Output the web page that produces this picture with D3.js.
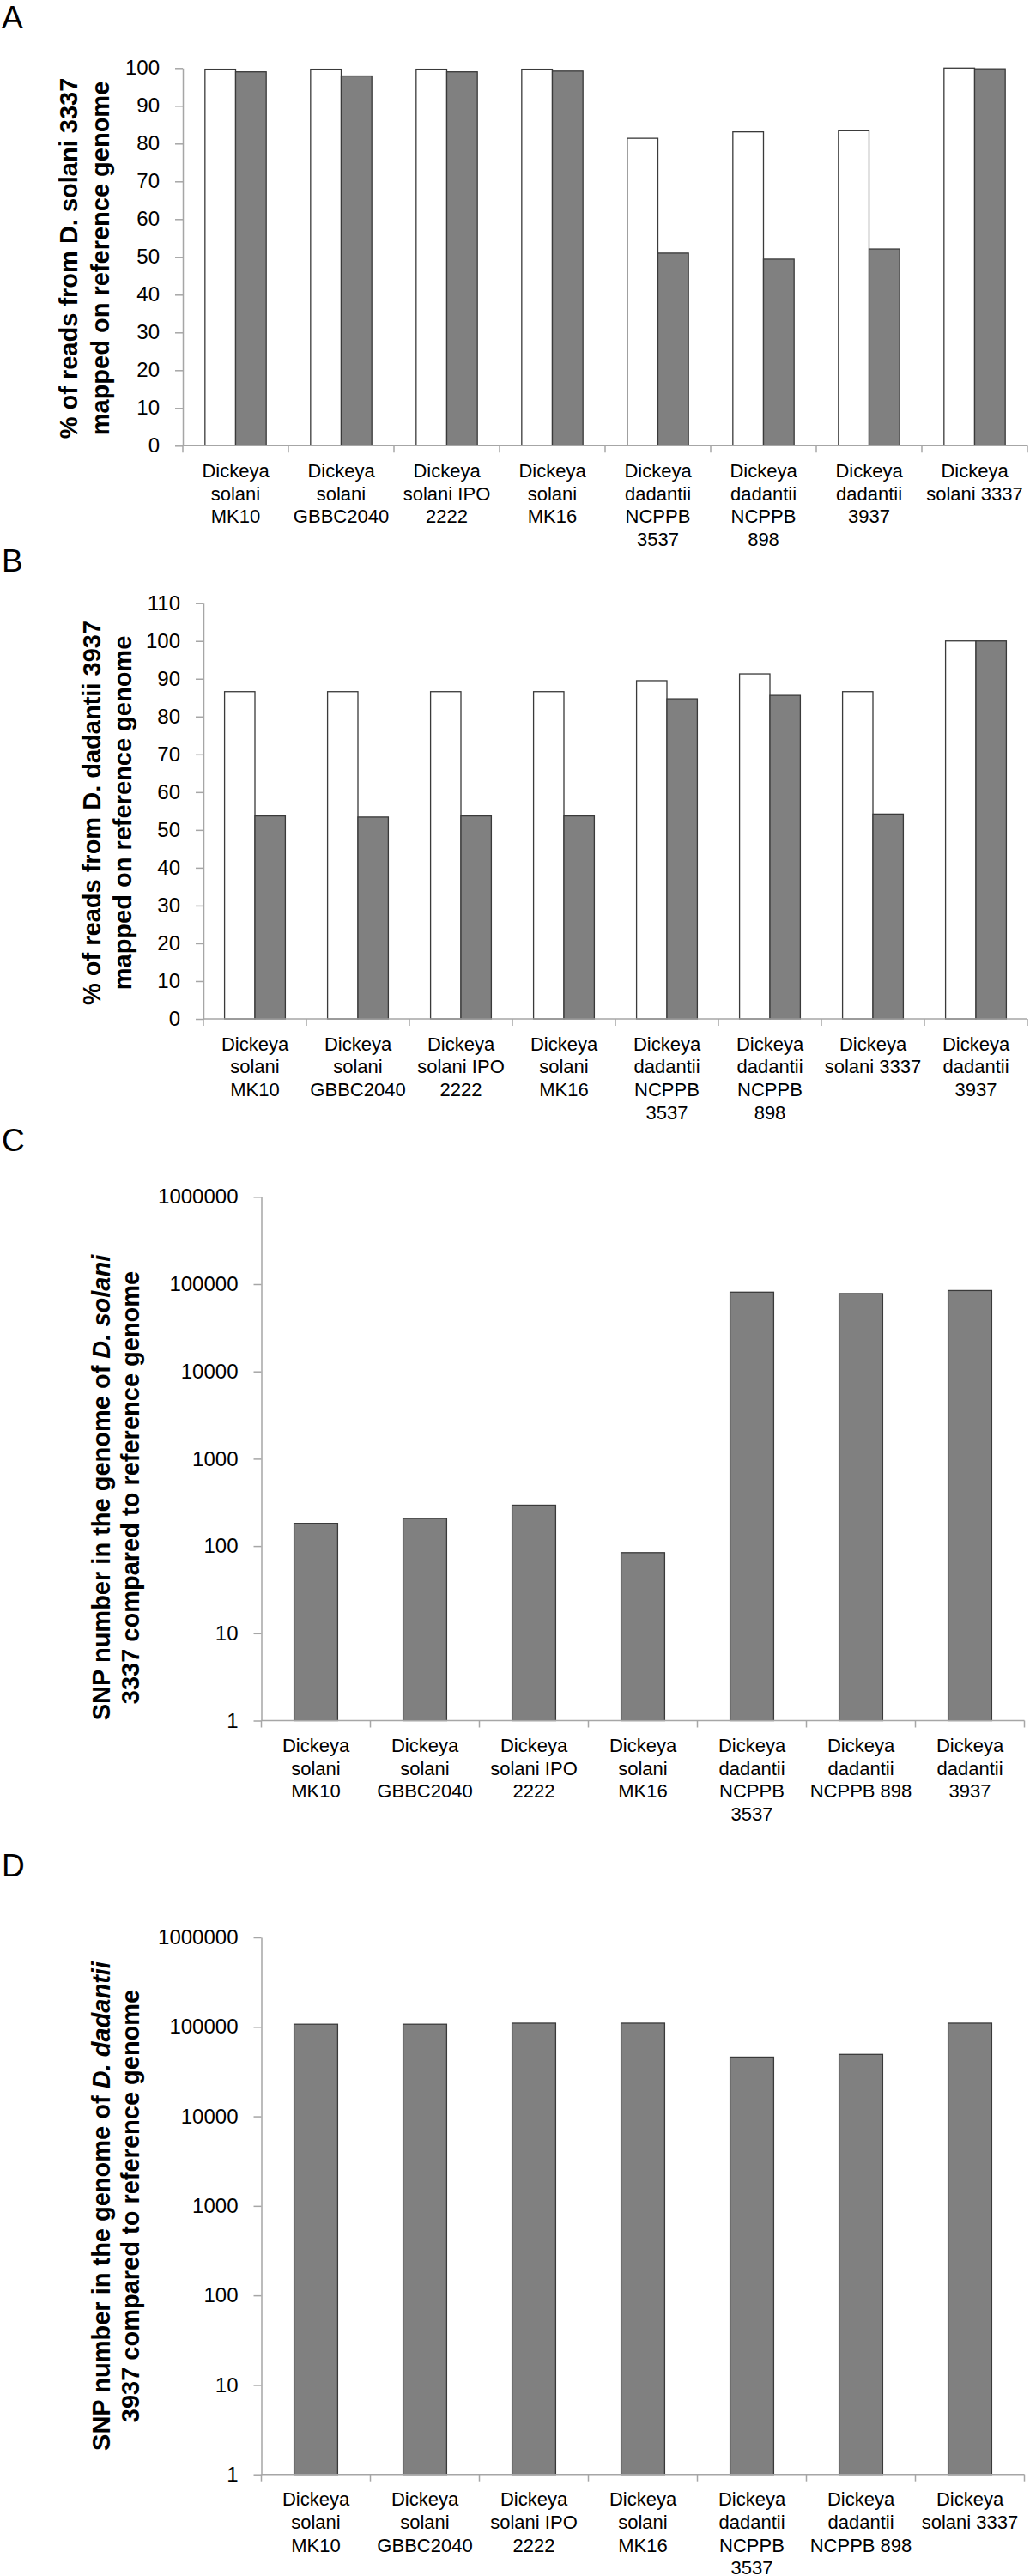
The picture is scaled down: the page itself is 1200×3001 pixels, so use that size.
<!DOCTYPE html>
<html>
<head>
<meta charset="utf-8">
<script src="https://cdn.jsdelivr.net/npm/d3@7"></script>
<style>
  body { margin: 0; background: #fff; }
  text { font-family: "Liberation Sans", Arial, sans-serif; fill: #000; }
</style>
</head>
<body>
<div id="chart"></div>
<script>
// categories ("|" marks a line break in the tick label)
var catsA = ["Dickeya|solani|MK10", "Dickeya|solani|GBBC2040", "Dickeya|solani IPO|2222", "Dickeya|solani|MK16",
             "Dickeya|dadantii|NCPPB|3537", "Dickeya|dadantii|NCPPB|898", "Dickeya|dadantii|3937", "Dickeya|solani 3337"];
var catsB = ["Dickeya|solani|MK10", "Dickeya|solani|GBBC2040", "Dickeya|solani IPO|2222", "Dickeya|solani|MK16",
             "Dickeya|dadantii|NCPPB|3537", "Dickeya|dadantii|NCPPB|898", "Dickeya|solani 3337", "Dickeya|dadantii|3937"];
var catsC = ["Dickeya|solani|MK10", "Dickeya|solani|GBBC2040", "Dickeya|solani IPO|2222", "Dickeya|solani|MK16",
             "Dickeya|dadantii|NCPPB|3537", "Dickeya|dadantii|NCPPB 898", "Dickeya|dadantii|3937"];
var catsD = ["Dickeya|solani|MK10", "Dickeya|solani|GBBC2040", "Dickeya|solani IPO|2222", "Dickeya|solani|MK16",
             "Dickeya|dadantii|NCPPB|3537", "Dickeya|dadantii|NCPPB 898", "Dickeya|solani 3337"];

// % of reads mapped (white / grey series)
var whiteA = [99.7, 99.7, 99.7, 99.7, 81.4, 83.1, 83.4, 100];
var greyA  = [99.0, 97.9, 99.0, 99.2, 51.0, 49.4, 52.1, 99.8];
var whiteB = [86.6, 86.6, 86.6, 86.6, 89.5, 91.3, 86.6, 100];
var greyB  = [53.7, 53.4, 53.7, 53.7, 84.7, 85.6, 54.2, 100];

// SNP numbers
var snpC = [182, 207, 294, 84, 81000, 78000, 84500];
var snpD = [107000, 107000, 110000, 110000, 46000, 49300, 110000];

// tick labels
var ticksA = [0, 10, 20, 30, 40, 50, 60, 70, 80, 90, 100];
var ticksB = [0, 10, 20, 30, 40, 50, 60, 70, 80, 90, 100, 110];
var ticksLog = [1, 10, 100, 1000, 10000, 100000, 1000000];

var AXIS = "#a6a6a6", EDGE = "#3a3a3a", GREY = "#808080";

var svg = d3.select("#chart")
  .append("svg")
    .attr("width", 1200)
    .attr("height", 3001);

function panel(o) {
  var x = d3.scaleBand().domain(o.cats).range([o.left, o.right]);
  var y = o.log
    ? d3.scaleLog().domain([1, 1000000]).range([o.bottom, o.top])
    : d3.scaleLinear().domain([0, o.max]).range([o.bottom, o.top]);
  var bw = x.bandwidth();

  // panel letter
  svg.append("text")
    .attr("x", 2).attr("y", o.letterY)
    .style("font-size", "37px")
    .text(o.letter);

  // bars
  o.series.forEach(function(s, si) {
    var n = o.series.length;
    var inner = d3.scaleBand().domain(d3.range(n))
      .range([bw / 2 - n * bw * o.barFrac / 2, bw / 2 + n * bw * o.barFrac / 2]);
    svg.selectAll(null)
      .data(s.values)
      .enter().append("rect")
        .attr("x", function(d, i) { return x(o.cats[i]) + inner(si); })
        .attr("y", function(d) { return y(d); })
        .attr("width", inner.bandwidth())
        .attr("height", function(d) { return o.bottom - y(d); })
        .attr("fill", s.fill)
        .attr("stroke", EDGE)
        .attr("stroke-width", 1.3);
  });

  // y axis
  var ya = svg.append("g")
    .attr("transform", "translate(" + o.left + ",0)")
    .call(d3.axisLeft(y).tickValues(o.ticks).tickFormat(d3.format("d"))
      .tickSize(9).tickSizeOuter(0).tickPadding(18));
  ya.selectAll("path, line").attr("stroke", AXIS).attr("stroke-width", 1.5);
  ya.selectAll("text").style("font-size", "24px").style("font-family", "Liberation Sans, Arial, sans-serif");

  // x axis with ticks on category boundaries
  svg.append("line")
    .attr("x1", o.left).attr("x2", o.right)
    .attr("y1", o.bottom).attr("y2", o.bottom)
    .attr("stroke", AXIS).attr("stroke-width", 1.5);
  var bounds = o.cats.map(function(c) { return x(c); }).concat([x.range()[1]]);
  svg.selectAll(null)
    .data(bounds)
    .enter().append("line")
      .attr("x1", function(d) { return d; }).attr("x2", function(d) { return d; })
      .attr("y1", o.bottom).attr("y2", o.bottom + 8)
      .attr("stroke", AXIS).attr("stroke-width", 1.5);

  // category labels
  var lab = svg.selectAll(null)
    .data(o.cats)
    .enter().append("text")
      .attr("text-anchor", "middle")
      .attr("x", function(d) { return x(d) + bw / 2; })
      .attr("y", o.bottom + 36.5)
      .style("font-size", "22px");
  lab.each(function(d) {
    var t = d3.select(this);
    d.split("|").forEach(function(line, i) {
      t.append("tspan")
        .attr("x", x(d) + bw / 2)
        .attr("dy", i === 0 ? 0 : 26.7)
        .text(line);
    });
  });

  // y axis title (two rotated lines)
  o.title.forEach(function(parts, i) {
    var t = svg.append("text")
      .attr("transform", "translate(" + o.titleX[i] + "," + o.titleCY + ") rotate(-90)")
      .attr("text-anchor", "middle")
      .style("font-size", "29px")
      .style("font-weight", "bold");
    parts.forEach(function(p) {
      t.append("tspan").style("font-style", p[1] ? "italic" : "normal").text(p[0]);
    });
  });
}

panel({
  letter: "A", letterY: 33,
  cats: catsA, left: 213, right: 1197, top: 79.3, bottom: 519.3, max: 100, ticks: ticksA,
  barFrac: 0.29,
  series: [{ values: whiteA, fill: "#fff" }, { values: greyA, fill: GREY }],
  title: [[["% of reads from D. solani 3337"]], [["mapped on reference genome"]]],
  titleX: [90, 127], titleCY: 301
});

panel({
  letter: "B", letterY: 666,
  cats: catsB, left: 237, right: 1197, top: 702.7, bottom: 1187, max: 110, ticks: ticksB,
  barFrac: 0.295,
  series: [{ values: whiteB, fill: "#fff" }, { values: greyB, fill: GREY }],
  title: [[["% of reads from D. dadantii 3937"]], [["mapped on reference genome"]]],
  titleX: [117, 153], titleCY: 947
});

panel({
  letter: "C", letterY: 1341, log: true,
  cats: catsC, left: 304.5, right: 1193.5, top: 1394.3, bottom: 2004.5, ticks: ticksLog,
  barFrac: 0.40,
  series: [{ values: snpC, fill: GREY }],
  title: [[["SNP number in the genome of "], ["D. solani", true]], [["3337 compared to reference genome"]]],
  titleX: [128, 162], titleCY: 1733
});

panel({
  letter: "D", letterY: 2186, log: true,
  cats: catsD, left: 304.5, right: 1193.5, top: 2257, bottom: 2882.7, ticks: ticksLog,
  barFrac: 0.40,
  series: [{ values: snpD, fill: GREY }],
  title: [[["SNP number in the genome of "], ["D. dadantii", true]], [["3937 compared to reference genome"]]],
  titleX: [128, 162], titleCY: 2570
});
</script>
</body>
</html>
